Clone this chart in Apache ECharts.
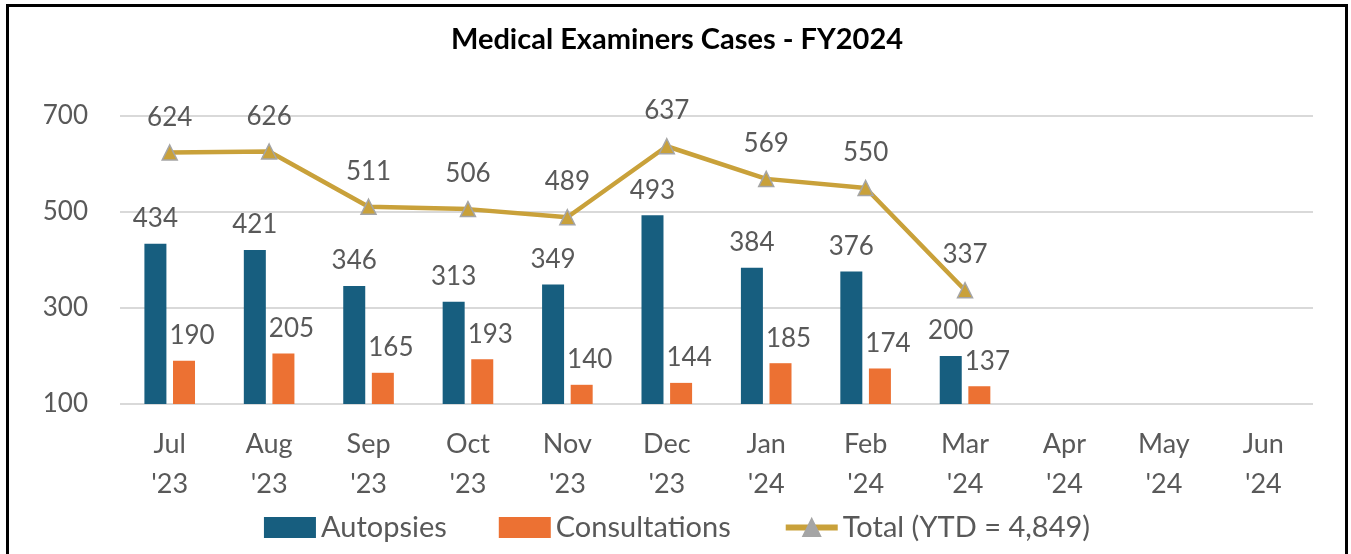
<!DOCTYPE html>
<html>
<head>
<meta charset="utf-8">
<script src="https://cdn.jsdelivr.net/npm/echarts@6/dist/echarts.min.js"></script>
<style>
html, body { margin: 0; padding: 0; background: #fff; }
#chart { position: absolute; left: 6px; top: 4px; width: 1342px; height: 560px;
	border: 3px solid #000; box-sizing: border-box; }
</style>
</head>
<body>
<div id="chart"></div>
<script>
// 月份
const months = ["Jul\n'23", "Aug\n'23", "Sep\n'23", "Oct\n'23", "Nov\n'23", "Dec\n'23",
	"Jan\n'24", "Feb\n'24", "Mar\n'24", "Apr\n'24", "May\n'24", "Jun\n'24"];
const autopsies = [434, 421, 346, 313, 349, 493, 384, 376, 200, null, null, null];
const consultations = [190, 205, 165, 193, 140, 144, 185, 174, 137, null, null, null];
const totals = [624, 626, 511, 506, 489, 637, 569, 550, 337, null, null, null];
const yTicks = [100, 300, 500, 700];

const font = 'Lato, "Open Sans", sans-serif';
const textColor = '#595959';

let chart = echarts.init(document.getElementById('chart'));
let option = {
	animation: false,
	title: {
		text: 'Medical Examiners Cases - FY2024',
		left: 'center',
		top: 13,
		textStyle: { fontFamily: font, fontSize: 29, fontWeight: 'bold', color: '#000' },
	},
	grid: { left: 111, right: 32, top: 109, bottom: 157 },
	legend: {
		bottom: 14,
		left: 'center',
		itemGap: 52,
		itemWidth: 52,
		itemHeight: 21,
		textStyle: { fontFamily: font, fontSize: 29, color: textColor },
		data: [
			{ name: 'Autopsies', icon: 'rect' },
			{ name: 'Consultations', icon: 'rect' },
			{
				name: 'Total (YTD = 4,849)',
				itemStyle: { color: '#a5a5a5' },
				lineStyle: { color: '#c9a13a', width: 6 },
			},
		],
	},
	xAxis: {
		type: 'category',
		data: months,
		axisLine: { show: false },
		axisTick: { show: false },
		axisLabel: { fontFamily: font, fontSize: 27, color: textColor, lineHeight: 40, margin: 20 },
	},
	yAxis: {
		type: 'value',
		min: yTicks[0],
		max: yTicks[yTicks.length - 1],
		interval: 200,
		axisLine: { show: false },
		axisTick: { show: false },
		axisLabel: { fontFamily: font, fontSize: 26, color: textColor, margin: 32 },
		splitLine: { lineStyle: { color: '#d9d9d9', width: 2 } },
	},
	series: [
		{
			name: 'Autopsies',
			type: 'bar',
			data: autopsies,
			barWidth: 22,
			barGap: '30%',
			clip: true,
			itemStyle: { color: '#175e7f' },
			label: { show: true, position: 'top', distance: 12, fontFamily: font, fontSize: 26, color: textColor },
		},
		{
			name: 'Consultations',
			type: 'bar',
			data: consultations,
			barWidth: 22,
			clip: true,
			itemStyle: { color: '#ec7133' },
			label: { show: true, position: 'top', distance: 12, offset: [8, 0], fontFamily: font, fontSize: 26, color: textColor },
		},
		{
			name: 'Total (YTD = 4,849)',
			type: 'line',
			data: totals,
			symbol: 'triangle',
			symbolSize: 15,
			lineStyle: { color: '#c9a13a', width: 4.5 },
			itemStyle: { color: '#c9a13a', borderColor: '#a5a5a5', borderWidth: 1.5 },
			label: { show: true, position: 'top', distance: 14, fontFamily: font, fontSize: 26, color: textColor },
		},
	],
};
chart.setOption(option);
window.addEventListener('resize', function () {
	chart && chart.resize();
});
</script>
</body>
</html>
